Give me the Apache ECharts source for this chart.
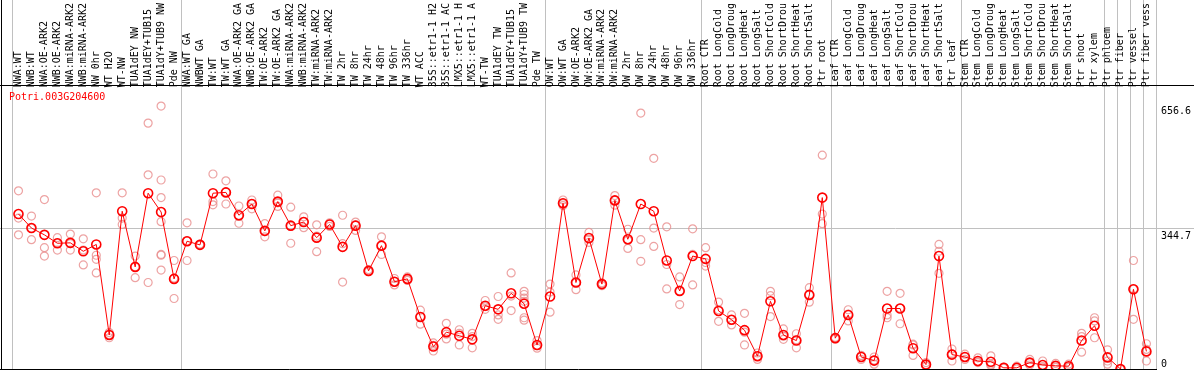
<!DOCTYPE html>
<html><head><meta charset="utf-8">
<script src="https://cdn.jsdelivr.net/npm/echarts@6/dist/echarts.min.js"></script>
<style>html,body{margin:0;padding:0;background:#fff}#c{width:1194px;height:370px}</style>
</head><body><div id="c"></div>
<script>
const geneId = 'Potri.003G204600';
const categories = [
 'NWA:WT','NWB:WT','NWA:OE-ARK2','NWB:OE-ARK2','NWA:miRNA-ARK2','NWB:miRNA-ARK2','NW 0hr','WT H2O','WT-NW','TUA1dEY NW',
 'TUA1dEY+TUB15','TUA1dY+TUB9 NW','Pde NW','NWA:WT GA','NWBWT GA','TW:WT','TW:WT GA','NWA:OE-ARK2 GA','NWB:OE-ARK2 GA','TW:OE-ARK2',
 'TW:OE-ARK2 GA','NWA:miRNA-ARK2','NWB:miRNA-ARK2','TW:miRNA-ARK2','TW:miRNA-ARK2','TW 2hr','TW 8hr','TW 24hr','TW 48hr','TW 96hr',
 'TW 336hr','WT ACC','35S::etr1-1 H2','35S::etr1-1 AC','LMX5::etr1-1 H','LMX5::etr1-1 A','WT-TW','TUA1dEY TW','TUA1dEY+TUB15','TUA1dY+TUB9 TW',
 'Pde TW','OW:WT','OW:WT GA','OW:OE-ARK2','OW:OE-ARK2 GA','OW:miRNA-ARK2','OW:miRNA-ARK2','OW 2hr','OW 8hr','OW 24hr',
 'OW 48hr','OW 96hr','OW 336hr','Root CTR','Root LongCold','Root LongDroug','Root LongHeat','Root LongSalt','Root ShortCold','Root ShortDrou',
 'Root ShortHeat','Root ShortSalt','Ptr root','Leaf CTR','Leaf LongCold','Leaf LongDroug','Leaf LongHeat','Leaf LongSalt','Leaf ShortCold','Leaf ShortDrou',
 'Leaf ShortHeat','Leaf ShortSalt','Ptr leaf','Stem CTR','Stem LongCold','Stem LongDroug','Stem LongHeat','Stem LongSalt','Stem ShortCold','Stem ShortDrou',
 'Stem ShortHeat','Stem ShortSalt','Ptr shoot','Ptr xylem','Ptr phloem','Ptr fiber','Ptr vessel','Ptr fiber vess'
];
const means = [
 387,352,335,314,315,294,311,85,394,255,
 439,392,225,319,310,439,441,384,412,345,
 418,358,367,328,361,305,358,245,308,218,
 225,130,56,92,83,74,158,149,189,163,
 60,181,414,216,327,212,421,324,412,394,
 271,195,282,275,145,123,97,32,169,85,
 71,185,428,77,135,30,21,151,151,52,
 11,282,36,30,20,18,3,3,16,10,
 8,7,71,108,29,0,199,44
];
const replicates = [
 [445,377,335],[382,352,323],[423,303,282],[328,297,315],[337,297,313],[325,260,297],[440,284,274,240],[91,78,86],[440,377,361],[282,228,255],
 [614,485,216],[656.6,472,428,368,286,284,247],[271,176,227],[365,271,320],[310,312,309],[487,418,410],[470,412,442],[407,364,381],[422,400,413],[363,330,343],
 [434,406,415],[404,314,356],[380,353,368],[360,293,332],[365,362,356],[384,217,313],[367,346,360],[248,244,243],[330,286,308],[226,210,218],
 [230,221,223],[147,112,131],[65,45,59],[114,75,87],[98,60,89],[89,53,81],[171,149,156],[181,135,124],[240,146,182],[194,186,177,169,122,128],
 [71,52,58],[212,192,142],[422,408,413],[235,198,215],[341,316,324],[215,208,212],[433,409,421],[349,301,321],[639,323,269],[526,352,306],
 [355,261,200],[230,161,194],[350,210,286],[303,257,266],[167,119,148],[135,110,123],[139,60,92],[40,24,32],[194,131,183],[100,74,82],
 [88,53,73],[203,167,185],[534,387,363],[77,75,79],[148,120,137],[34,24,33],[30,12,22],[194,135,128],[189,113,152],[60,34,62],
 [16,7,11],[311,294,239],[50,20,38],[37,24,30],[28,16,18],[33,12,9],[5,2,3],[7,0,3],[24,10,15],[20,6,3],
 [14,4,7],[12,4,6],[89,81,42],[128,120,78],[48,20,12],[0,0,0],[271,124,200],[63,20,49]
];
const yTickValues = [0, 344.7, 656.6];
const yGridValues = [344.7];
const yMax = 696;
const groupStarts = [0, 13, 41, 53, 63, 73, 84, 85, 86, 87];

const repPoints = [];
replicates.forEach((arr, i) => arr.forEach(v => repPoints.push([i, v])));

const FONT = '"DejaVu Sans Mono", monospace';
const chart = echarts.init(document.getElementById('c'), null, {renderer: 'canvas'});
chart.setOption({
  animation: false,
  backgroundColor: '#fff',
  title: { text: geneId, left: 9, top: 92, padding: 0,
    textStyle: { fontFamily: FONT, fontSize: 10, fontWeight: 'normal', color: '#ff0000' } },
  grid: [
    { left: 12, top: 85, width: 1144, height: 284 },
    { left: 12, top: 0, width: 1144, height: 369 },
    { left: 0, top: 85, width: 1194, height: 284 }
  ],
  xAxis: [
    { gridIndex: 0, type: 'category', data: categories, position: 'top', boundaryGap: true,
      axisLine: { show: false }, axisTick: { show: false }, splitLine: { show: false },
      axisLabel: { interval: 0, rotate: 90, margin: 3, fontFamily: FONT, fontSize: 10, color: '#000' } },
    { gridIndex: 1, type: 'category', data: categories, boundaryGap: true,
      axisLine: { show: false }, axisTick: { show: false }, axisLabel: { show: false },
      splitLine: { show: true, interval: (i) => groupStarts.includes(i), lineStyle: { color: '#c0c0c0', width: 1 } } },
    { gridIndex: 2, type: 'value', min: 0, max: 1, show: false }
  ],
  yAxis: [
    { gridIndex: 0, type: 'value', min: 0, max: yMax, position: 'right',
      axisLine: { show: false }, axisTick: { show: false, customValues: yTickValues }, splitLine: { show: false },
      axisLabel: { customValues: yTickValues, formatter: v => String(v), margin: 8,
        verticalAlign: 'top', verticalAlignMinLabel: 'bottom', fontFamily: FONT, fontSize: 10, color: '#000' } },
    { gridIndex: 1, type: 'value', min: 0, max: 1, show: false },
    { gridIndex: 2, type: 'value', min: 0, max: yMax,
      axisLine: { show: false }, axisTick: { show: false, customValues: yGridValues }, axisLabel: { show: false },
      splitLine: { show: true, lineStyle: { color: '#c0c0c0', width: 1 } } }
  ],
  graphic: [
    { type: 'line', silent: true, z: 10, shape: { x1: 1.5, y1: 0, x2: 1.5, y2: 370 }, style: { stroke: '#000', lineWidth: 1 } },
    { type: 'line', silent: true, z: 10, shape: { x1: 0, y1: 85.5, x2: 1194, y2: 85.5 }, style: { stroke: '#000', lineWidth: 1 } },
    { type: 'line', silent: true, z: 10, shape: { x1: 0, y1: 369.5, x2: 1157, y2: 369.5 }, style: { stroke: '#000', lineWidth: 1 } }
  ],
  series: [
    { type: 'scatter', xAxisIndex: 0, yAxisIndex: 0, data: repPoints, symbol: 'circle', symbolSize: 8, silent: true, z: 2,
      itemStyle: { color: 'rgba(0,0,0,0)', borderColor: '#e88c8c', borderWidth: 1.2 } },
    { type: 'line', xAxisIndex: 0, yAxisIndex: 0, data: means, symbol: 'circle', symbolSize: 9, showAllSymbol: true, silent: true, z: 3,
      lineStyle: { color: '#ff0000', width: 1 },
      itemStyle: { color: 'rgba(0,0,0,0)', borderColor: '#ff0000', borderWidth: 1.6 } }
  ]
});
</script>
</body></html>
